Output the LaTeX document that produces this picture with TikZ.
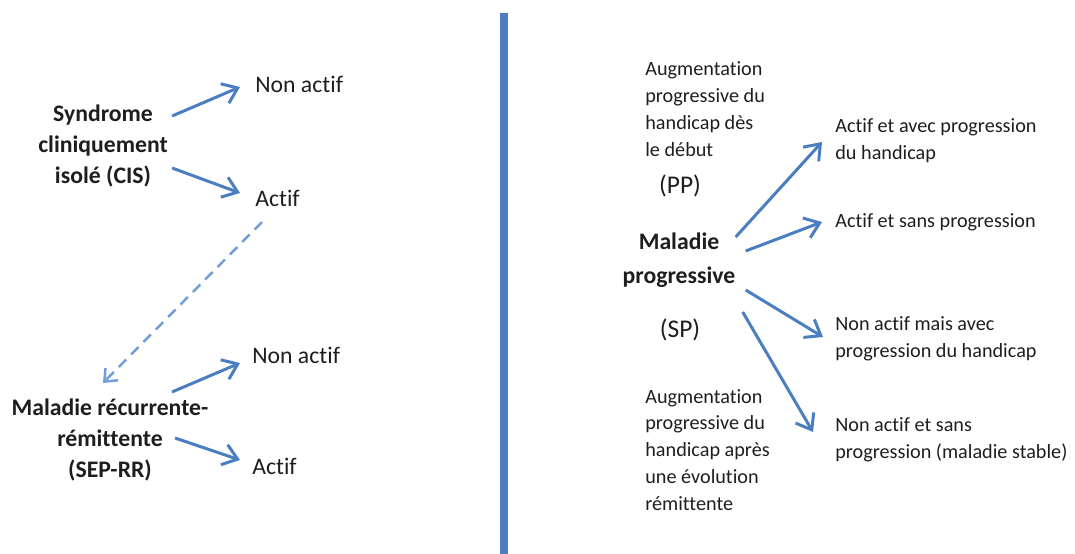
\documentclass[tikz,border=0pt]{standalone}
\usepackage{fontspec}
\setmainfont{Carlito}[Ligatures=NoCommon]
\usetikzlibrary{arrows.meta}
\definecolor{arrowblue}{RGB}{74,126,192}
\definecolor{dashblue}{RGB}{112,158,216}
\definecolor{textgray}{RGB}{30,30,30}

\begin{document}
\begin{tikzpicture}[x=0.02cm,y=-0.02cm,
    every node/.style={inner sep=0pt,text=textgray},
    disease/.style={align=center,font=\fontsize{13.5}{17.6}\selectfont\bfseries},
    state/.style={anchor=west,font=\fontsize{13.5}{16}\selectfont},
    course/.style={anchor=west,align=left,font=\fontsize{11.5}{15.3}\selectfont},
    label/.style={font=\fontsize{14.5}{16}\selectfont},
    arr/.style={draw=arrowblue,line width=1.7pt,-{Straight Barb[length=8pt,width=12pt]}},
    darr/.style={draw=dashblue,line width=1.4pt,dash pattern=on 6pt off 4pt,-{Straight Barb[length=6pt,width=10pt]}}]
    \useasboundingbox (0,0) rectangle (1075,554);
    \draw[arrowblue,line width=5pt] (504,13) -- (504,554);

    \node[disease] (cis) at (103,146) {Syndrome\\cliniquement\\isolé (CIS)};
    \node[state] (na1) at (255,84) {Non actif};
    \node[state] (a1) at (255,198) {Actif};
    \node[disease] (srr) at (110,440) {Maladie récurrente-\\rémittente\\(SEP-RR)};
    \node[state] (na2) at (252,355) {Non actif};
    \node[state] (a2) at (252,466) {Actif};
    \draw[arr] ([shift={(4,-30)}]cis.east) -- ([shift={(-15,3)}]na1.west);
    \draw[arr] ([shift={(4,22)}]cis.east) -- ([shift={(-15,-5)}]a1.west);
    \draw[darr] ([shift={(7,24)}]a1.west) -- ([shift={(-7,-57)}]srr.center);
    \draw[arr] ([shift={(62,-48)}]srr.center) -- ([shift={(-12,8)}]na2.west);
    \draw[arr] ([shift={(65,-2)}]srr.center) -- ([shift={(-12,-6)}]a2.west);

    \node[course] (pptxt) at (645,109) {Augmentation\\progressive du\\handicap dès\\le début};
    \node[label] (pp) at (680,186) {(PP)};
    \node[disease,font=\fontsize{13.5}{19.3}\selectfont\bfseries] (mp) at (679,260) {Maladie\\progressive};
    \node[label] (sp) at (680,330) {(SP)};
    \node[course] (sptxt) at (645,450) {Augmentation\\progressive du\\handicap après\\une évolution\\rémittente};
    \node[course] (r1) at (835,141) {Actif et avec progression\\du handicap};
    \node[course] (r2) at (835,222) {Actif et sans progression};
    \node[course] (r3) at (835,339) {Non actif mais avec\\progression du handicap};
    \node[course] (r4) at (835,440) {Non actif et sans\\progression (maladie stable)};
    \draw[arr] ([shift={(0,-23)}]mp.east) -- ([shift={(-13,1)}]r1.west);
    \draw[arr] ([shift={(10,-9)}]mp.east) -- ([shift={(-13,0)}]r2.west);
    \draw[arr] ([shift={(10,30)}]mp.east) -- ([shift={(-12,-2)}]r3.west);
    \draw[arr] ([shift={(7,52)}]mp.east) -- ([shift={(-22,-8)}]r4.west);
\end{tikzpicture}
\end{document}
